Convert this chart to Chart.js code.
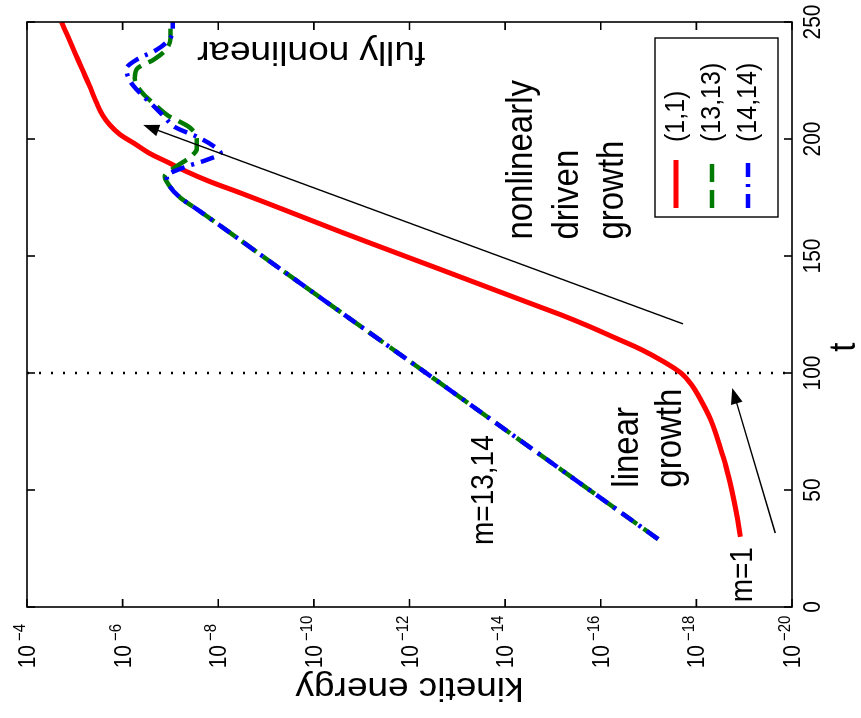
<!DOCTYPE html>
<html>
<head>
<meta charset="utf-8">
<script src="https://cdn.jsdelivr.net/npm/chart.js@4.4.1/dist/chart.umd.min.js"></script>
<style>
html, body { margin: 0; padding: 0; background: #fff; overflow: hidden; }
/* the figure is drawn upright and then turned a quarter turn, like the scan */
#wrap {
    position: absolute; left: 0; top: 0;
    width: 718px; height: 861px;
    transform-origin: 0 0;
    transform: translate(0px, 718px) rotate(-90deg);
    background: #fff;
}
</style>
</head>
<body>
<div id="wrap"><canvas id="chart" width="718" height="861"></canvas></div>
<script>

/* =========================
   DATA
========================= */

const timeTicks = [0, 50, 100, 150, 200, 250];
const energyTickPowers = [-4, -6, -8, -10, -12, -14, -16, -18, -20];

const seriesLabels = ["(1,1)", "(13,13)", "(14,14)"];

const redTime = [30, 40, 50, 60, 70, 80, 90, 95, 100, 105, 110, 115, 120, 125, 130, 140, 150, 160, 170, 177, 182, 186, 190, 194, 198, 202, 206, 210, 216, 223, 230, 237, 244, 250];
const redEnergy = [1.2e-19, 1.45e-19, 1.82e-19, 2.4e-19, 3.4e-19, 5.0e-19, 8.9e-19, 1.26e-18, 2.1e-18, 5.0e-18, 1.41e-17, 5.0e-17, 1.78e-16, 7.1e-16, 3.2e-15, 6.3e-14, 1.26e-12, 2.5e-11, 4.5e-10, 3.5e-9, 1.58e-8, 4.5e-8, 1.12e-7, 2.8e-7, 5.6e-7, 1.15e-6, 1.85e-6, 2.6e-6, 3.6e-6, 5.0e-6, 7.1e-6, 1.0e-5, 1.41e-5, 1.9e-5];

const greenTime = [29, 60, 100, 140, 165, 170, 175, 180, 184, 188, 192, 196, 200, 205, 210, 215, 220, 226, 230, 234, 238, 243, 247, 250];
const greenEnergy = [6.3e-18, 8.3e-16, 4.5e-13, 2.5e-10, 1.26e-8, 2.8e-8, 6.3e-8, 1.05e-7, 1.32e-7, 7.9e-8, 4.0e-8, 2.8e-8, 2.8e-8, 4.0e-8, 1.12e-7, 2.2e-7, 4.0e-7, 5.6e-7, 5.0e-7, 2.2e-7, 1.26e-7, 1.0e-7, 1.0e-7, 1.12e-7];

const blueTime = [29, 60, 100, 140, 165, 170, 175, 180, 184, 188, 191, 194, 197, 201, 205, 210, 215, 220, 225, 230, 234, 238, 242, 246, 250];
const blueEnergy = [6.3e-18, 8.3e-16, 4.5e-13, 2.5e-10, 1.26e-8, 2.8e-8, 6.3e-8, 1.05e-7, 1.2e-7, 5.0e-8, 1.78e-8, 8.9e-9, 1.26e-8, 2.8e-8, 7.9e-8, 1.41e-7, 2.5e-7, 4.5e-7, 7.1e-7, 8.3e-7, 5.0e-7, 2.0e-7, 1.12e-7, 8.9e-8, 8.9e-8];

const markerTime = 100;

/* text notes, placed in data units (t, energy) */
const notes = [
    { text: "m=13,14", t: 26.5, e: 1.8e-14, size: 28 },
    { text: "linear", t: 51, e: 1.66e-17, size: 33 },
    { text: "growth", t: 51, e: 2.1e-18, size: 33 },
    { text: "m=1", t: 2, e: 6.8e-20, size: 28 },
    { text: "nonlinearly", t: 157, e: 2.75e-15, size: 33 },
    { text: "driven", t: 157, e: 2.95e-16, size: 33 },
    { text: "growth", t: 157, e: 3.5e-17, size: 33 },
    { text: "fully nonlinear", t: 241.5, e: 4.7e-13, size: 33, vertical: true }
];

const arrows = [
    { from: [121, 1.9e-18], to: [206, 3.7e-7] },
    { from: [31.6, 2.24e-20], to: [93.6, 1.78e-19] }
];

/* =========================
   STYLE
========================= */

const FONT = '"Liberation Sans", Arial, Helvetica, sans-serif';
const STRETCH = 1.12;   // the scan is taller than it is wide

const seriesColors = ["#ff0000", "#007a00", "#0000ff"];
const seriesDash = [[], [18, 8], [14, 7, 3, 7]];

function toPoints(xs, ys) {

    return xs.map((x, i) => ({ x: x, y: ys[i] }));

}

function drawText(ctx, text, x, y, size, opts) {

    ctx.save();

    ctx.translate(x, y);

    if (opts.vertical) {

        ctx.rotate(-Math.PI / 2);
        ctx.scale(STRETCH, 1);

    } else {

        ctx.scale(1, STRETCH);

    }

    ctx.font = size + "px " + FONT;
    ctx.fillStyle = "#000";
    ctx.textAlign = opts.align || "left";
    ctx.textBaseline = opts.baseline || "alphabetic";
    ctx.fillText(text, 0, 0);

    ctx.restore();

}

function drawArrow(ctx, x1, y1, x2, y2) {

    const ang = Math.atan2(y2 - y1, x2 - x1);
    const len = 16;
    const half = 6;

    ctx.save();
    ctx.strokeStyle = "#000";
    ctx.fillStyle = "#000";
    ctx.lineWidth = 1.4;

    ctx.beginPath();
    ctx.moveTo(x1, y1);
    ctx.lineTo(x2 - Math.cos(ang) * len * 0.8, y2 - Math.sin(ang) * len * 0.8);
    ctx.stroke();

    ctx.beginPath();
    ctx.moveTo(x2, y2);
    ctx.lineTo(x2 - Math.cos(ang) * len - Math.sin(ang) * half,
               y2 - Math.sin(ang) * len + Math.cos(ang) * half);
    ctx.lineTo(x2 - Math.cos(ang) * len + Math.sin(ang) * half,
               y2 - Math.sin(ang) * len - Math.cos(ang) * half);
    ctx.closePath();
    ctx.fill();

    ctx.restore();

}

/* =========================
   FRAME, LABELS, NOTES
========================= */

const figurePlugin = {

    id: "figure",

    beforeDatasetsDraw(chart) {

        const { ctx, chartArea, scales } = chart;
        const x = scales.x.getPixelForValue(markerTime);

        ctx.save();
        ctx.strokeStyle = "#000";
        ctx.lineWidth = 2.5;
        ctx.setLineDash([2, 10]);
        ctx.beginPath();
        ctx.moveTo(x, chartArea.top);
        ctx.lineTo(x, chartArea.bottom);
        ctx.stroke();
        ctx.restore();

    },

    afterDatasetsDraw(chart) {

        const { ctx, chartArea, scales } = chart;
        const xs = scales.x;
        const ys = scales.y;
        const a = chartArea;

        /* box with inward ticks on all sides */

        ctx.save();
        ctx.strokeStyle = "#000";
        ctx.lineWidth = 1.6;
        ctx.strokeRect(a.left, a.top, a.right - a.left, a.bottom - a.top);

        ctx.beginPath();

        timeTicks.forEach(t => {

            const px = xs.getPixelForValue(t);
            ctx.moveTo(px, a.bottom);
            ctx.lineTo(px, a.bottom - 8);
            ctx.moveTo(px, a.top);
            ctx.lineTo(px, a.top + 8);

        });

        energyTickPowers.forEach(p => {

            const py = ys.getPixelForValue(Math.pow(10, p));
            ctx.moveTo(a.left, py);
            ctx.lineTo(a.left + 8, py);
            ctx.moveTo(a.right, py);
            ctx.lineTo(a.right - 8, py);

        });

        ctx.stroke();
        ctx.restore();

        /* tick labels */

        timeTicks.forEach(t => {

            drawText(ctx, String(t), xs.getPixelForValue(t), a.bottom + 28, 21,
                { align: "center" });

        });

        energyTickPowers.forEach(p => {

            const py = ys.getPixelForValue(Math.pow(10, p));
            drawText(ctx, "10", a.left - 38, py + 8, 21, { align: "right" });
            drawText(ctx, "\u2212" + Math.abs(p), a.left - 34, py - 2, 15, { align: "left" });

        });

        /* axis titles */

        drawText(ctx, "t", xs.getPixelForValue(111), a.bottom + 63, 33, { align: "center" });

        drawText(ctx, "kinetic energy", a.left - 71, (a.top + a.bottom) / 2, 33,
            { align: "center", vertical: true });

        /* notes */

        notes.forEach(n => {

            drawText(ctx, n.text, xs.getPixelForValue(n.t), ys.getPixelForValue(n.e), n.size,
                { align: "left", vertical: n.vertical });

        });

        /* arrows */

        arrows.forEach(ar => {

            drawArrow(ctx,
                xs.getPixelForValue(ar.from[0]), ys.getPixelForValue(ar.from[1]),
                xs.getPixelForValue(ar.to[0]), ys.getPixelForValue(ar.to[1]));

        });

        /* legend box, lower right of the axes */

        const boxRight = a.right - 16;
        const boxLeft = boxRight - 179;
        const boxBottom = a.bottom - 14;
        const boxTop = boxBottom - 123;

        ctx.save();
        ctx.fillStyle = "#fff";
        ctx.fillRect(boxLeft, boxTop, boxRight - boxLeft, boxBottom - boxTop);
        ctx.strokeStyle = "#000";
        ctx.lineWidth = 1.4;
        ctx.strokeRect(boxLeft, boxTop, boxRight - boxLeft, boxBottom - boxTop);
        ctx.restore();

        seriesLabels.forEach((label, i) => {

            const rowY = boxTop + 21 + i * 36;

            ctx.save();
            ctx.strokeStyle = seriesColors[i];
            ctx.lineWidth = i === 0 ? 5 : 4.5;
            ctx.setLineDash(seriesDash[i]);
            ctx.beginPath();
            ctx.moveTo(boxLeft + 9, rowY);
            ctx.lineTo(boxLeft + 57, rowY);
            ctx.stroke();
            ctx.restore();

            drawText(ctx, label, boxLeft + 75, rowY, 25, { align: "left", baseline: "middle" });

        });

    }

};

/* =========================
   CHART
========================= */

const chart = new Chart(document.getElementById("chart"), {

    type: "line",

    data: {

        datasets: [

            {
                label: seriesLabels[0],
                data: toPoints(redTime, redEnergy),
                borderColor: seriesColors[0],
                borderWidth: 5,
                borderDash: seriesDash[0],
                cubicInterpolationMode: "default",
                tension: 0.4,
                order: 3
            },

            {
                label: seriesLabels[1],
                data: toPoints(greenTime, greenEnergy),
                borderColor: seriesColors[1],
                borderWidth: 4.5,
                borderDash: seriesDash[1],
                order: 2
            },

            {
                label: seriesLabels[2],
                data: toPoints(blueTime, blueEnergy),
                borderColor: seriesColors[2],
                borderWidth: 4.5,
                borderDash: seriesDash[2],
                order: 1
            }

        ]

    },

    options: {

        responsive: false,
        animation: false,

        layout: {
            padding: { top: 27, right: 22, left: 0, bottom: 0 }
        },

        elements: {
            point: { radius: 0 },
            line: { cubicInterpolationMode: "monotone", fill: false }
        },

        scales: {

            x: {
                type: "linear",
                min: 0,
                max: 250,
                grid: { display: false },
                border: { display: false },
                ticks: { display: false },
                afterFit(scale) { scale.height = 69; }
            },

            y: {
                type: "logarithmic",
                min: 1e-20,
                max: 1e-4,
                grid: { display: false },
                border: { display: false },
                ticks: { display: false },
                afterFit(scale) { scale.width = 111; }
            }

        },

        plugins: {
            legend: { display: false },
            tooltip: { enabled: false }
        }

    },

    plugins: [figurePlugin]

});

</script>
</body>
</html>
